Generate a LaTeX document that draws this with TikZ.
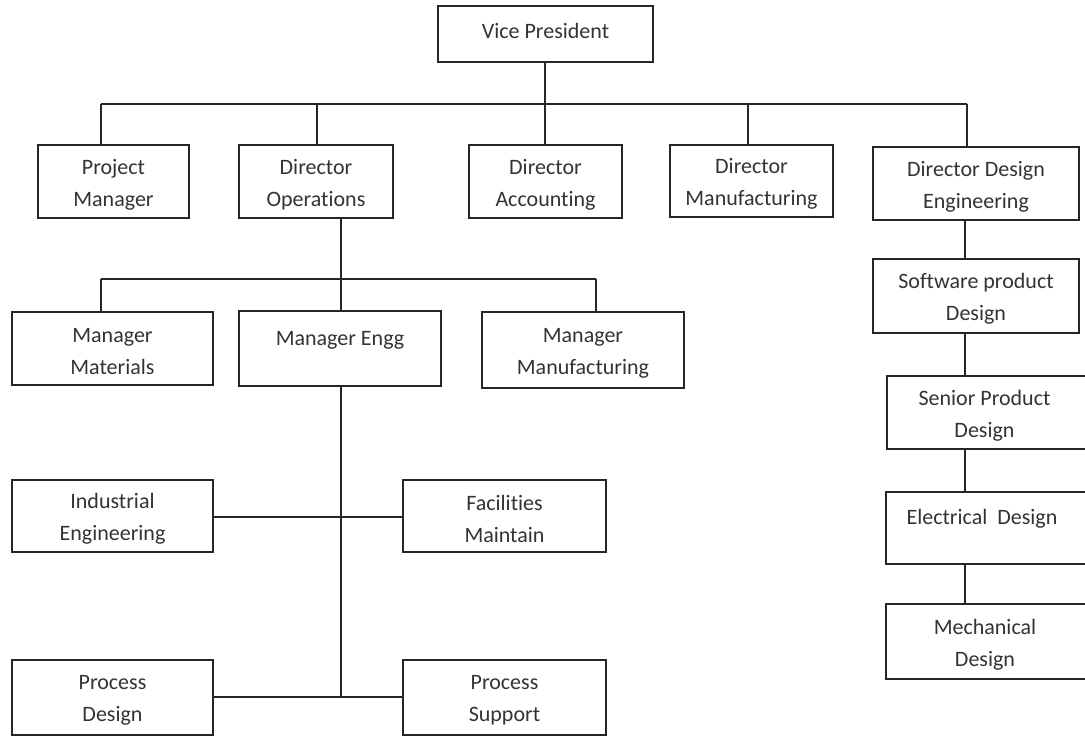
\documentclass[tikz,border=0pt]{standalone}
\usepackage{fontspec}
\setmainfont{Carlito}[Ligatures=NoCommon]
\begin{document}
\begin{tikzpicture}[x=1pt,y=-1pt,
  box/.style={draw=black!85, line width=1.8pt, inner sep=0pt, align=center,
    text=black!80, font=\fontsize{22}{32}\selectfont},
  label/.style={box, draw=none, yshift=-3pt},
  link/.style={draw=black!85, line width=1.6pt}]
\useasboundingbox (0,0) rectangle (1085,739);
% box with corners (x1,y1)-(x2,y2)
\newcommand{\orgbox}[6][]{%
  \node[box, minimum width={#4-#2}, minimum height={#5-#3}, #1]
    (#6) at ({(#2+#4)/2},{(#3+#5)/2}) {};}
% top level
\orgbox{438}{6}{653}{62}{vp}
\node[label] at ([yshift=6]vp) {Vice President};
% directors
\orgbox{38}{145}{189}{218}{pm}
\orgbox{239}{145}{393}{218}{dops}
\orgbox{469}{145}{622}{218}{dacc}
\orgbox{670}{145}{833}{217}{dman}
\orgbox{873}{147}{1079}{220}{dde}
\node[label] at (pm) {Project\\Manager};
\node[label] at (dops) {Director\\Operations};
\node[label] at (dacc) {Director\\Accounting};
\node[label] at (dman) {Director\\Manufacturing};
\node[label] at (dde) {Director Design\\Engineering};
% managers under operations
\orgbox{12}{312}{213}{385}{mmat}
\orgbox{239}{311}{441}{386}{meng}
\orgbox{482}{312}{684}{388}{mmfg}
\node[label] at (mmat) {Manager\\Materials};
\node[label] at ([yshift=-8]meng) {Manager Engg\\\strut};
\node[label] at (mmfg) {Manager\\Manufacturing};
% engineering groups
\orgbox{12}{480}{213}{552}{ie}
\orgbox{403}{480}{606}{552}{fm}
\orgbox{12}{660}{213}{735}{pd}
\orgbox{403}{660}{606}{735}{ps}
\node[label] at (ie) {Industrial\\Engineering};
\node[label] at (fm) {Facilities\\Maintain};
\node[label] at (pd) {Process\\Design};
\node[label] at (ps) {Process\\Support};
% design engineering chain
\orgbox{873}{259}{1079}{333}{spd}
\orgbox{887}{376}{1090}{449}{sen}
\orgbox{886}{492}{1090}{564}{elec}
\orgbox{886}{604}{1090}{679}{mech}
\node[label] at (spd) {Software product\\Design};
\node[label] at ([xshift=-4]sen) {Senior Product\\Design};
\node[label] at ([xshift=-6,yshift=-7]elec) {Electrical\ \ Design\\\strut};
\node[label] at ([xshift=-3]mech) {Mechanical\\Design};
% connectors: vice president to directors
\coordinate (b1) at (545,104);
\draw[link] (vp.south -| b1) -- (b1);
\draw[link] (101,104) coordinate (bl) -- (967,104) coordinate (br);
\draw[link] (bl) -- (pm.north -| bl);
\draw[link] (317,104) -- (dops.north -| 317,0);
\draw[link] (b1) -- (dacc.north -| b1);
\draw[link] (748,104) -- (dman.north -| 748,0);
\draw[link] (br) -- (dde.north -| br);
% operations to managers
\coordinate (b2) at (341,279);
\draw[link] (dops.south -| b2) -- (b2);
\draw[link] (101,279) -- (596,279);
\draw[link] (101,279) -- (mmat.north -| 101,0);
\draw[link] (b2) -- (meng.north -| b2);
\draw[link] (596,279) -- (mmfg.north -| 596,0);
% manager engg trunk
\coordinate (t1) at (341,517);
\coordinate (t2) at (341,697);
\draw[link] (meng.south -| t2) -- (t2);
\draw[link] (ie.east |- t1) -- (fm.west |- t1);
\draw[link] (pd.east |- t2) -- (ps.west |- t2);
% design engineering chain
\coordinate (c) at (965,0);
\draw[link] (dde.south -| c) -- (spd.north -| c);
\draw[link] (spd.south -| c) -- (sen.north -| c);
\draw[link] (sen.south -| c) -- (elec.north -| c);
\draw[link] (elec.south -| c) -- (mech.north -| c);
\end{tikzpicture}
\end{document}
